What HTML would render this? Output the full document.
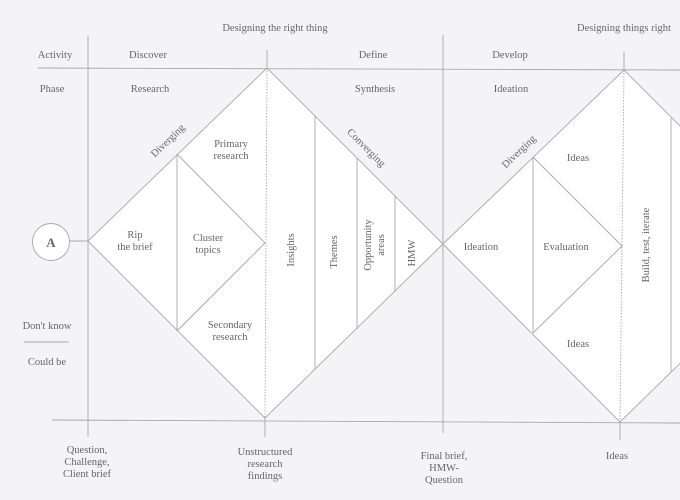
<!DOCTYPE html>
<html><head><meta charset="utf-8"><style>
html,body{margin:0;padding:0;background:#f4f4f6;}
svg{display:block;}
text{font-family:"Liberation Serif",serif;font-size:10.5px;fill:#666;}
</style></head><body>
<svg width="680" height="500" viewBox="0 0 680 500" xmlns="http://www.w3.org/2000/svg">
<rect width="680" height="500" fill="#f4f4f6"/>
<g stroke="#a8a8a8" stroke-width="0.9" fill="none">
<polygon points="88,241 267,68 443,244 265,418" fill="#ffffff"/>
<polygon points="443,244 624,70 800,246 620,422" fill="#ffffff"/>
<line x1="38" y1="68" x2="680" y2="70"/>
<line x1="52" y1="420" x2="680" y2="423"/>
<line x1="88" y1="36" x2="88" y2="437"/>
<line x1="443" y1="35" x2="443" y2="433"/>
<line x1="267" y1="50" x2="267" y2="68"/>
<line x1="624" y1="52" x2="624" y2="70"/>
<line x1="265" y1="418" x2="265" y2="437"/>
<line x1="620" y1="422" x2="620" y2="440"/>
<line x1="177" y1="154" x2="177" y2="331"/>
<line x1="177" y1="154" x2="265" y2="243"/>
<line x1="177" y1="331" x2="265" y2="243"/>
<line x1="533" y1="157" x2="533" y2="333"/>
<line x1="533" y1="157" x2="622" y2="246"/>
<line x1="533" y1="333" x2="622" y2="246"/>
<line x1="315" y1="116" x2="315" y2="369"/>
<line x1="357" y1="158" x2="357" y2="329"/>
<line x1="395" y1="196" x2="395" y2="292"/>
<line x1="671" y1="118" x2="671" y2="372"/>
<line x1="267" y1="68" x2="265" y2="418" stroke-dasharray="1.5,1.5"/>
<line x1="624" y1="70" x2="620" y2="422" stroke-dasharray="1.5,1.5"/>
<circle cx="51" cy="242" r="18.5" fill="#fff"/>
<line x1="70" y1="241" x2="88" y2="241"/>
<line x1="24" y1="342" x2="69" y2="342"/>
</g>
<text x="275" y="31" text-anchor="middle">Designing the right thing</text>
<text x="624" y="31" text-anchor="middle">Designing things right</text>
<text x="55" y="58" text-anchor="middle">Activity</text>
<text x="148" y="58" text-anchor="middle">Discover</text>
<text x="373" y="58" text-anchor="middle">Define</text>
<text x="510" y="58" text-anchor="middle">Develop</text>
<text x="52" y="92" text-anchor="middle">Phase</text>
<text x="150" y="92" text-anchor="middle">Research</text>
<text x="375" y="92" text-anchor="middle">Synthesis</text>
<text x="511" y="92" text-anchor="middle">Ideation</text>
<text x="51" y="247" text-anchor="middle" style="font-size:13px;font-weight:bold">A</text>
<text x="231" y="147" text-anchor="middle">Primary</text>
<text x="231" y="159" text-anchor="middle">research</text>
<text x="135" y="238" text-anchor="middle">Rip</text>
<text x="135" y="250" text-anchor="middle">the brief</text>
<text x="208" y="241" text-anchor="middle">Cluster</text>
<text x="208" y="253" text-anchor="middle">topics</text>
<text x="230" y="328" text-anchor="middle">Secondary</text>
<text x="230" y="340" text-anchor="middle">research</text>
<text x="481" y="250" text-anchor="middle">Ideation</text>
<text x="566" y="250" text-anchor="middle">Evaluation</text>
<text x="578" y="161" text-anchor="middle">Ideas</text>
<text x="578" y="347" text-anchor="middle">Ideas</text>
<text x="47" y="329" text-anchor="middle">Don't know</text>
<text x="47" y="365" text-anchor="middle">Could be</text>
<text transform="translate(170,143) rotate(-44)" text-anchor="middle">Diverging</text>
<text transform="translate(364,150) rotate(45)" text-anchor="middle">Converging</text>
<text transform="translate(521,154) rotate(-44)" text-anchor="middle">Diverging</text>
<text transform="translate(294,250) rotate(-90)" text-anchor="middle">Insights</text>
<text transform="translate(337,252) rotate(-90)" text-anchor="middle">Themes</text>
<text transform="translate(371,245) rotate(-90)" text-anchor="middle">Opportunity</text>
<text transform="translate(384,245) rotate(-90)" text-anchor="middle">areas</text>
<text transform="translate(415,253) rotate(-90)" text-anchor="middle">HMW</text>
<text transform="translate(649,245) rotate(-90)" text-anchor="middle">Build, test, iterate</text>
<text x="87" y="453" text-anchor="middle">Question,</text>
<text x="87" y="465" text-anchor="middle">Challenge,</text>
<text x="87" y="477" text-anchor="middle">Client brief</text>
<text x="265" y="455" text-anchor="middle">Unstructured</text>
<text x="265" y="467" text-anchor="middle">research</text>
<text x="265" y="479" text-anchor="middle">findings</text>
<text x="444" y="459" text-anchor="middle">Final brief,</text>
<text x="444" y="471" text-anchor="middle">HMW-</text>
<text x="444" y="483" text-anchor="middle">Question</text>
<text x="617" y="459" text-anchor="middle">Ideas</text>
</svg>
</body></html>
